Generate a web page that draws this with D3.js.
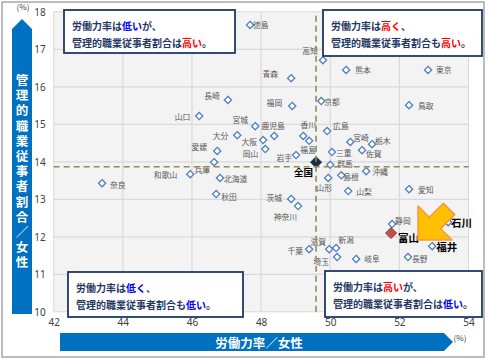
<!DOCTYPE html>
<html>
<head>
<meta charset="utf-8">
<script src="https://cdn.jsdelivr.net/npm/d3@7"></script>
<style>
  body { margin: 0; background: #fff; }
  svg { display: block; font-family: "Noto Sans CJK JP", "Noto Sans", sans-serif; }
</style>
</head>
<body>
<div class="chart"></div>
<script>
// prefecture data: female labour force rate (x) and managerial share (y)
const prefNames = ["徳島","高知","熊本","東京","青森","福岡","京都","鳥取","長崎","山口",
  "宮城","鹿児島","大分","大阪","岡山","愛媛","兵庫","和歌山","北海道","秋田",
  "奈良","香川","福島","岩手","広島","宮崎","栃木","三重","佐賀","群馬",
  "沖縄","島根","山形","山梨","茨城","神奈川","千葉","滋賀","新潟","埼玉",
  "岐阜","愛知","静岡","富山","石川","福井","長野"];
const laborRate = [47.68,49.79,50.46,52.83,48.87,48.90,49.74,52.28,47.04,46.21,
  47.83,48.38,47.31,48.06,48.12,46.73,46.64,45.95,46.81,46.70,
  43.40,49.22,49.39,49.01,49.91,50.58,51.21,50.05,50.92,50.00,
  51.04,50.32,49.94,50.52,48.87,49.07,49.39,49.97,50.17,50.20,
  50.75,52.28,51.79,51.76,53.41,52.95,52.25];
const mgrShare = [17.65,16.71,16.45,16.45,16.23,15.49,15.62,15.51,15.65,15.22,
  14.95,14.69,14.71,14.58,14.34,14.29,13.99,13.67,13.57,13.14,
  13.43,14.69,14.56,14.18,14.82,14.53,14.47,14.26,14.31,13.92,
  13.75,13.64,13.57,13.22,13.01,12.82,11.67,11.67,11.70,11.46,
  11.41,13.27,12.34,12.10,12.39,11.75,11.46];
const national = { name: "全国", x: 49.59, y: 13.99 };
const avgLineX = 49.59, avgLineY = 13.87;
const highlight = "富山";
const boldNames = ["石川","福井"];

const xTicks = [42,44,46,48,50,52,54];
const yTicks = [10,11,12,13,14,15,16,17,18];

// where each data label sits relative to its marker: [dx, dy, anchor]
const labelAt = {
  "徳島":[3,0,"start"],"高知":[-13,-10,"middle"],"熊本":[9,0,"start"],"東京":[8,0,"start"],
  "青森":[-13,-5,"end"],"福岡":[-10,-3,"end"],"京都":[3,0,"start"],"鳥取":[9,0,"start"],
  "長崎":[-8,-4,"end"],"山口":[-9,0,"end"],"宮城":[-15,-7,"middle"],"鹿児島":[-1,-10,"middle"],
  "大分":[-9,0,"end"],"大阪":[-6,1,"end"],"岡山":[-7,4,"end"],"愛媛":[-10,-4,"end"],
  "兵庫":[-4,7,"end"],"和歌山":[-13,0,"end"],"北海道":[4,1,"start"],"秋田":[5,2,"start"],
  "奈良":[8,1,"start"],"香川":[5,-11,"middle"],"福島":[-1,9,"middle"],"岩手":[-4,2,"end"],
  "広島":[6,-6,"start"],"宮崎":[3,-4,"start"],"栃木":[3,-4,"start"],"三重":[4,0,"start"],
  "佐賀":[4,3,"start"],"群馬":[7,-1,"start"],"沖縄":[6,0,"start"],"島根":[2,1,"start"],
  "山形":[-4,10,"middle"],"山梨":[8,0,"start"],"茨城":[-9,-1,"end"],"神奈川":[-1,10,"end"],
  "千葉":[-6,1,"end"],"滋賀":[-11,-8,"middle"],"新潟":[10,-9,"middle"],"埼玉":[-16,4,"middle"],
  "岐阜":[8,0,"start"],"愛知":[9,0,"start"],"静岡":[3,-4,"start"],"富山":[7,4,"start"],
  "石川":[3,0,"start"],"福井":[4,0,"start"],"長野":[4,1,"start"]
};

const width = 488, height = 362;
const plot = { left: 53.7, right: 468.5, top: 11.8, bottom: 311.8 };

const svg = d3.select(".chart").append("svg")
  .attr("width", width).attr("height", height);

// outer frame
svg.append("rect").attr("x", 2).attr("y", 2).attr("width", 482).attr("height", 355)
  .attr("fill", "#fff").attr("stroke", "#a6a6a6").attr("stroke-width", 1.5);

const x = d3.scaleLinear().domain([42, 54]).range([plot.left, plot.right]);
const y = d3.scaleLinear().domain([10, 18]).range([plot.bottom, plot.top]);

svg.append("rect")
  .attr("x", plot.left).attr("y", plot.top)
  .attr("width", plot.right - plot.left).attr("height", plot.bottom - plot.top)
  .attr("fill", "#f3f3f3").attr("stroke", "#d9d9d9");

// grid
svg.append("g").selectAll("line").data(xTicks.slice(1, -1)).enter().append("line")
  .attr("x1", d => x(d)).attr("x2", d => x(d))
  .attr("y1", plot.top).attr("y2", plot.bottom)
  .attr("stroke", "#d9d9d9").attr("stroke-width", 1.2);
svg.append("g").selectAll("line").data(yTicks.slice(1, -1)).enter().append("line")
  .attr("x1", plot.left).attr("x2", plot.right)
  .attr("y1", d => y(d)).attr("y2", d => y(d))
  .attr("stroke", "#d9d9d9").attr("stroke-width", 1.2);

// axes (labels only)
const xAxis = svg.append("g").attr("transform", `translate(0,${plot.bottom})`)
  .call(d3.axisBottom(x).tickValues(xTicks).tickSize(0).tickPadding(7));
const yAxis = svg.append("g").attr("transform", `translate(${plot.left},0)`)
  .call(d3.axisLeft(y).tickValues(yTicks).tickSize(0).tickPadding(8));
[xAxis, yAxis].forEach(a => {
  a.select(".domain").remove();
  a.selectAll("text").attr("font-size", 10).attr("fill", "#404040")
    .attr("font-family", "'Noto Sans', sans-serif");
});

svg.append("text").attr("x", 23).attr("y", 10).attr("text-anchor", "middle")
  .attr("font-size", 8).attr("fill", "#404040").text("(%)");
svg.append("text").attr("x", 460).attr("y", 341).attr("text-anchor", "middle")
  .attr("font-size", 8).attr("fill", "#404040").text("(%)");

// y title band (arrow pointing up)
svg.append("path")
  .attr("d", "M12,314 L12,29 L22,19 L32,29 L32,314 Z")
  .attr("fill", "#0070c0");
svg.append("text")
  .attr("x", 22).attr("y", 74)
  .style("writing-mode", "vertical-rl")
  .style("text-orientation", "upright")
  .attr("letter-spacing", 2.7)
  .attr("font-size", 12.5).attr("font-weight", "bold").attr("fill", "#fff")
  .text("管理的職業従事者割合／女性");

// x title band (arrow pointing right)
svg.append("path")
  .attr("d", "M60,333 L444,333 L453,342 L444,351 L60,351 Z")
  .attr("fill", "#0070c0");
svg.append("text").attr("x", 259).attr("y", 342.5)
  .attr("text-anchor", "middle").attr("dominant-baseline", "central")
  .attr("font-size", 12.5).attr("font-weight", "bold").attr("fill", "#fff")
  .text("労働力率／女性");

// points
const points = prefNames.map((n, i) => ({ name: n, x: laborRate[i], y: mgrShare[i] }));
const diamond = (cx, cy, r) => `M${cx},${cy - r}L${cx + r},${cy}L${cx},${cy + r}L${cx - r},${cy}Z`;

const g = svg.append("g");
g.selectAll(".pt").data(points.filter(d => d.name !== highlight)).enter().append("path")
  .attr("class", "pt")
  .attr("d", d => diamond(x(d.x), y(d.y), 3.6))
  .attr("fill", "#fff").attr("stroke", "#4f81bd").attr("stroke-width", 1.3);

const hl = points.find(d => d.name === highlight);
g.append("path").attr("d", diamond(x(hl.x), y(hl.y), 5.5))
  .attr("fill", "#c0504d").attr("stroke", "#943634").attr("stroke-width", 1);

g.append("path").attr("d", diamond(x(national.x), y(national.y), 5.5))
  .attr("fill", "#1c2a48").attr("stroke", "#1c2a48");

// average lines
svg.append("line")
  .attr("x1", x(avgLineX)).attr("x2", x(avgLineX))
  .attr("y1", plot.top + 4).attr("y2", plot.bottom)
  .attr("stroke", "#948a54").attr("stroke-width", 1.6).attr("stroke-dasharray", "6,4");
svg.append("line")
  .attr("x1", plot.left).attr("x2", plot.right)
  .attr("y1", y(avgLineY)).attr("y2", y(avgLineY))
  .attr("stroke", "#948a54").attr("stroke-width", 1.6).attr("stroke-dasharray", "6,4");

// labels
g.selectAll(".lbl").data(points).enter().append("text")
  .attr("class", "lbl")
  .attr("x", d => x(d.x) + labelAt[d.name][0])
  .attr("y", d => y(d.y) + labelAt[d.name][1])
  .attr("text-anchor", d => labelAt[d.name][2])
  .attr("dominant-baseline", "central")
  .attr("font-size", d => d.name === highlight ? 10.5 : boldNames.includes(d.name) ? 10.5 : 7.8)
  .attr("font-weight", d => (d.name === highlight || boldNames.includes(d.name)) ? "bold" : "normal")
  .attr("fill", d => (d.name === highlight || boldNames.includes(d.name)) ? "#000" : "#595959")
  .text(d => d.name);

svg.append("text")
  .attr("x", x(national.x) - 3).attr("y", y(national.y) + 10)
  .attr("text-anchor", "end").attr("dominant-baseline", "central")
  .attr("font-size", 9.5).attr("font-weight", "bold").attr("fill", "#000")
  .text(national.name);

// orange arrow pointing at Toyama
const arrowPts = [[418,240],[418,206],[429.3,217.3],[443.4,203.2],[454.7,214.6],[440.7,228.7],[452,240]];
svg.append("polygon")
  .attr("points", arrowPts.map(p => p.join(",")).join(" "))
  .attr("fill", "#ffc000").attr("stroke", "#f79646").attr("stroke-width", 1.5)
  .attr("stroke-linejoin", "round");

// quadrant notes
const notes = [
  { box: [64, 10, 171, 43], lines: [[["労働力率は","n"],["低い","b"],["が、","n"]], [["管理的職業従事者割合は","n"],["高い","r"],["。","n"]]] },
  { box: [323, 10, 159, 46], lines: [[["労働力率は","n"],["高く","r"],["、","n"]], [["管理的職業従事者割合も","n"],["高い","r"],["。","n"]]] },
  { box: [68, 272, 175, 45], lines: [[["労働力率は","n"],["低く","b"],["、","n"]], [["管理的職業従事者割合も","n"],["低い","b"],["。","n"]]] },
  { box: [325, 271, 157, 46], lines: [[["労働力率は","n"],["高い","r"],["が、","n"]], [["管理的職業従事者割合は","n"],["低い","b"],["。","n"]]] }
];
const noteColor = { n: "#1f3864", b: "#0000ff", r: "#ff0000" };

notes.forEach(nt => {
  const [bx, by, bw, bh] = nt.box;
  svg.append("rect").attr("x", bx).attr("y", by).attr("width", bw).attr("height", bh)
    .attr("fill", "#fff").attr("stroke", "#1f3864").attr("stroke-width", 1.8);
  nt.lines.forEach((ln, i) => {
    const t = svg.append("text")
      .attr("x", bx + 8).attr("y", by + 15 + i * 16.5)
      .attr("dominant-baseline", "central")
      .attr("font-size", 10).attr("font-weight", "bold");
    ln.forEach(seg => t.append("tspan").attr("fill", noteColor[seg[1]]).text(seg[0]));
  });
});
</script>
</body>
</html>
